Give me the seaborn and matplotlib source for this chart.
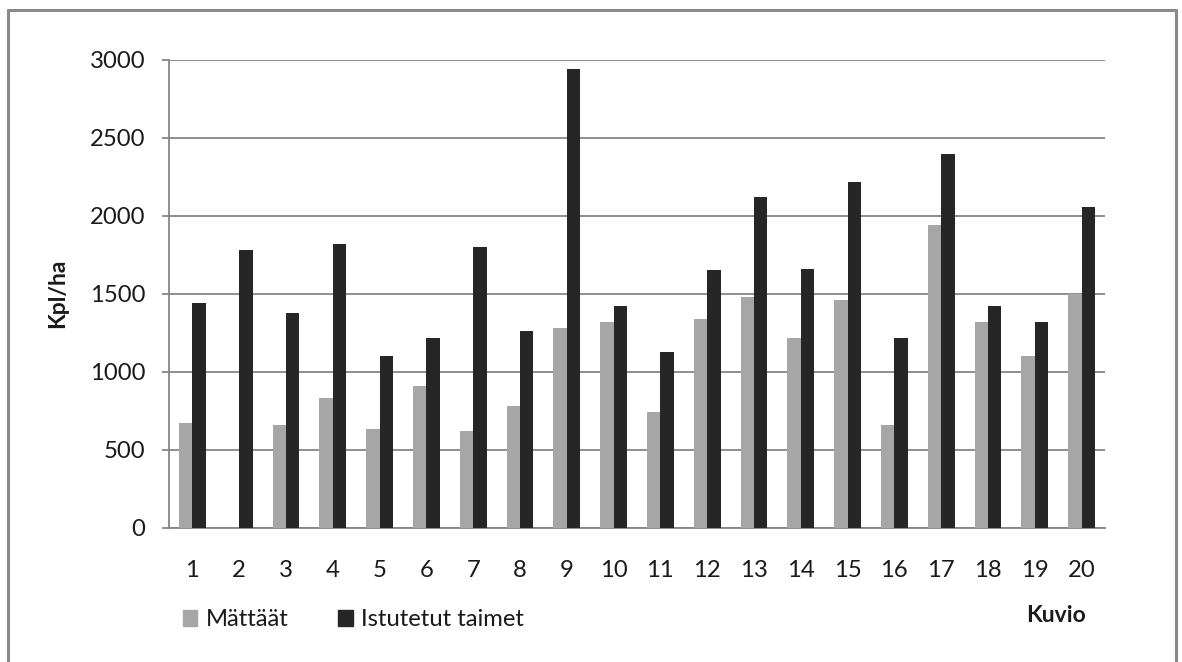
import matplotlib
matplotlib.use("Agg")
import matplotlib.pyplot as plt
from matplotlib.lines import Line2D
import seaborn as sns
import pandas as pd

# Plots per figure (kuvio): mounds and planted seedlings per hectare
kuvio = [str(i) for i in range(1, 21)]
mattaat = [670, 0, 660, 830, 630, 910, 620, 780, 1280, 1320,
           740, 1340, 1480, 1220, 1460, 660, 1940, 1320, 1100, 1500]
istutetut = [1440, 1780, 1380, 1820, 1100, 1220, 1800, 1260, 2940, 1420,
             1130, 1650, 2120, 1660, 2220, 1220, 2400, 1420, 1320, 2060]
series = ["Mättäät", "Istutetut taimet"]
yticks = [0, 500, 1000, 1500, 2000, 2500, 3000]

df = pd.DataFrame({
    "Kuvio": kuvio * 2,
    "Kpl/ha": mattaat + istutetut,
    "Sarja": [series[0]] * len(kuvio) + [series[1]] * len(kuvio),
})

sns.set_theme(style="white")
plt.rcParams["font.family"] = ["Lato", "DejaVu Sans"]

FS = 17.2
W, H = 1182, 662
fig = plt.figure(figsize=(W / 100, H / 100), dpi=100)
ax = fig.add_axes([169 / W, 1 - 527.7 / H, (1105 - 169) / W, (527.7 - 60) / H])

grid_col = "#868686"
sns.barplot(data=df, x="Kuvio", y="Kpl/ha", hue="Sarja", order=kuvio,
            hue_order=series, palette=["#A6A6A6", "#262626"],
            width=0.571, gap=0, dodge=True, saturation=1,
            edgecolor="none", linewidth=0, ax=ax, legend=True, zorder=3)

ax.set_xlim(-0.5, len(kuvio) - 0.5)
ax.set_ylim(0, 3000)
ax.set_yticks(yticks)
ax.set_yticklabels([str(v) for v in yticks])
ax.yaxis.grid(True, color=grid_col, linewidth=1.3, zorder=0)
ax.set_axisbelow(True)
ax.set_xlabel("")
ax.set_ylabel("")

for side in ["top", "right"]:
    ax.spines[side].set_visible(False)
for side in ["left", "bottom"]:
    ax.spines[side].set_color(grid_col)
    ax.spines[side].set_linewidth(1.3)

ax.tick_params(axis="y", length=5, width=1.3, color=grid_col, pad=12,
               labelsize=FS, labelcolor="#1a1a1a", left=True)
ax.tick_params(axis="x", length=0, pad=23, labelsize=FS,
               labelcolor="#1a1a1a", bottom=True)

# Legend below the plot area
handles = [plt.Rectangle((0, 0), 1, 1, color="#A6A6A6"),
           plt.Rectangle((0, 0), 1, 1, color="#262626")]
ax.get_legend().remove()
fig.legend(handles, series, loc="center left",
           bbox_to_anchor=(182.7 / W, 1 - 620 / H), ncol=2, frameon=False,
           fontsize=FS, handlelength=0.6, handleheight=0.6,
           handletextpad=0.35, columnspacing=2.1, borderpad=0,
           borderaxespad=0, labelcolor="#1a1a1a")

fig.text(58 / W, 1 - 293 / H, "Kpl/ha", rotation=90, ha="center",
         va="center", fontsize=16.5, fontweight="bold", color="#1a1a1a")
fig.text(1056 / W, 1 - 616 / H, "Kuvio", ha="center", va="center",
         fontsize=16.5, fontweight="bold", color="#1a1a1a")

# Chart-area frame
frame_col = "#8a8a8a"
for xs, ys in [((8, 8), (10, H + 5)), ((8, 1176), (10, 10)),
               ((1176, 1176), (10, H + 5))]:
    fig.add_artist(Line2D([x / W for x in xs], [1 - y / H for y in ys],
                          color=frame_col, linewidth=2.2,
                          transform=fig.transFigure))

fig.savefig("out.png", dpi=100, facecolor="white")
